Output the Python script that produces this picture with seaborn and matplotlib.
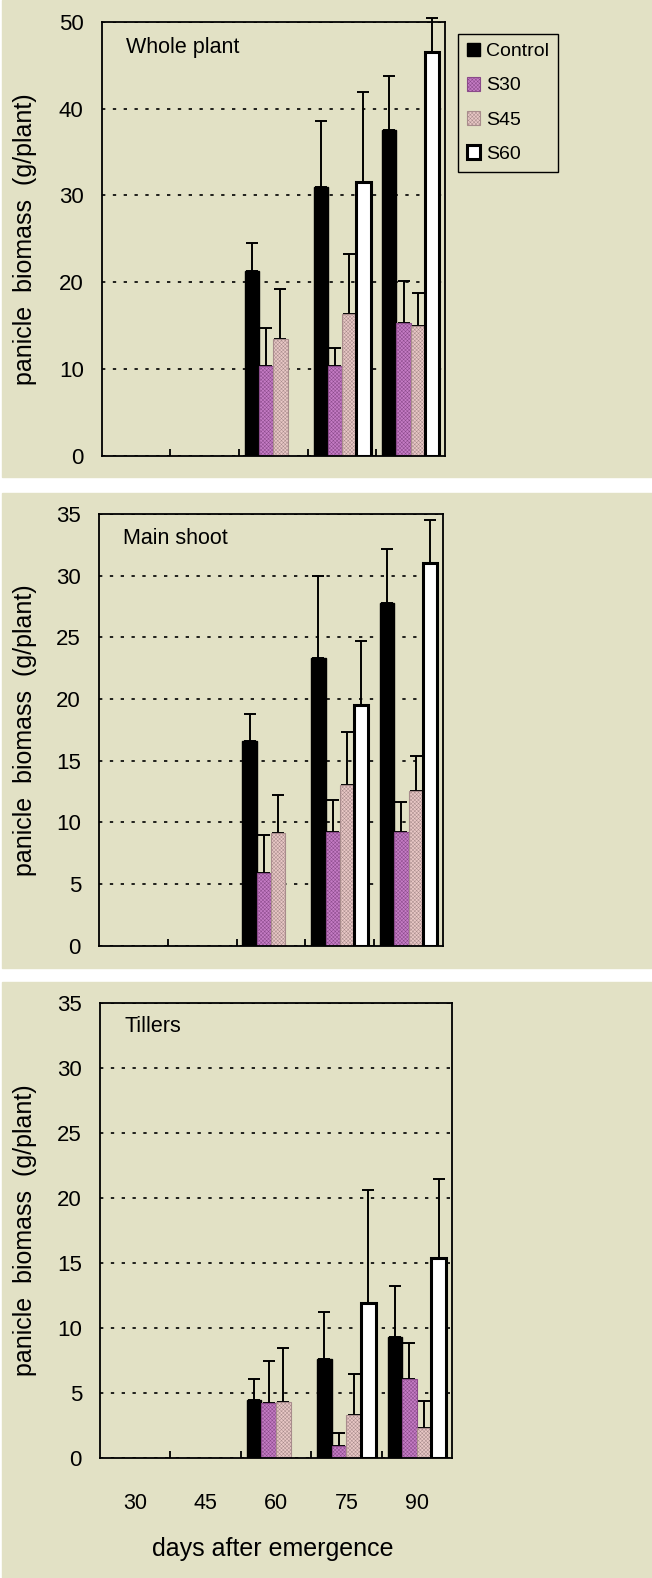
import numpy as np
import pandas as pd
import seaborn as sns
import matplotlib.pyplot as plt
from matplotlib.patches import Rectangle, Patch

sns.set_style('white')
plt.rcParams['font.family'] = ['Liberation Sans', 'DejaVu Sans']
plt.rcParams['hatch.linewidth'] = 0.35
for k in ['text.color', 'axes.labelcolor', 'xtick.color', 'ytick.color']:
    plt.rcParams[k] = 'black'

nan = np.nan
days = ['30', '45', '60', '75', '90']
treatments = ['Control', 'S30', 'S45', 'S60']

# whole plant - bar heights and upper error
whole_mean = {'Control': [nan, nan, 21.3, 31.0, 37.6],
              'S30': [nan, nan, 10.3, 10.3, 15.3],
              'S45': [nan, nan, 13.4, 16.3, 14.9],
              'S60': [nan, nan, nan, 31.5, 46.5]}
whole_err = {'Control': [nan, nan, 3.2, 7.6, 6.2],
             'S30': [nan, nan, 4.4, 2.15, 4.8],
             'S45': [nan, nan, 5.8, 6.9, 3.8],
             'S60': [nan, nan, nan, 10.4, 4.0]}

# main shoot
main_mean = {'Control': [nan, nan, 16.6, 23.3, 27.8],
             'S30': [nan, nan, 5.9, 9.2, 9.2],
             'S45': [nan, nan, 9.1, 13.0, 12.5],
             'S60': [nan, nan, nan, 19.5, 31.0]}
main_err = {'Control': [nan, nan, 2.2, 6.7, 4.4],
            'S30': [nan, nan, 3.1, 2.6, 2.4],
            'S45': [nan, nan, 3.1, 4.3, 2.9],
            'S60': [nan, nan, nan, 5.2, 3.5]}

# tillers
till_mean = {'Control': [nan, nan, 4.5, 7.6, 9.3],
             'S30': [nan, nan, 4.2, 0.9, 6.05],
             'S45': [nan, nan, 4.3, 3.3, 2.3],
             'S60': [nan, nan, nan, 11.9, 15.4]}
till_err = {'Control': [nan, nan, 1.6, 3.6, 3.9],
            'S30': [nan, nan, 3.3, 1.0, 2.8],
            'S45': [nan, nan, 4.2, 3.2, 2.1],
            'S60': [nan, nan, nan, 8.7, 6.1]}

W, H = 652, 1578
bg = '#e2e1c5'
fills = {'Control': 'black', 'S30': '#c57cc5', 'S45': '#e9c8c6', 'S60': 'white'}
edges = {'Control': 'black', 'S30': '#8a4a8a', 'S45': '#a88c8c', 'S60': 'black'}
lws = {'Control': 1.0, 'S30': 0.8, 'S45': 0.8, 'S60': 2.2}
hatches = {'Control': None, 'S30': 'xxxxxxxxx', 'S45': 'xxxxxxxxx', 'S60': None}

fig = plt.figure(figsize=(W / 100, H / 100), dpi=100, facecolor='white')
for top, bot in [(0, 477), (493, 968), (982, 1578)]:
    fig.patches.append(Rectangle((2 / W, 1 - bot / H), 650 / W, (bot - top) / H,
                                 transform=fig.transFigure, color=bg, zorder=-5))


def px_rect(l, r, t, b):
    return [l / W, 1 - b / H, (r - l) / W, (b - t) / H]


def draw_panel(rect, means, errs, title, ymax, step, title_y, last):
    l, r, t, b = rect
    ax = fig.add_axes(px_rect(*rect))
    ax.set_zorder(2)
    ax.set_facecolor('none')
    rows = []
    for tr in treatments:
        for d, v in zip(days, means[tr]):
            if not np.isnan(v):
                rows.append({'day': d, 'treatment': tr, 'value': v})
    df = pd.DataFrame(rows)
    sns.barplot(data=df, x='day', y='value', hue='treatment', order=days,
                hue_order=treatments, palette=fills, saturation=1, errorbar=None,
                width=0.83, legend=False, ax=ax, zorder=2)
    for tr, cont in zip(treatments, ax.containers):
        for p in cont:
            p.set_edgecolor(edges[tr])
            p.set_linewidth(lws[tr])
            if hatches[tr]:
                p.set_hatch(hatches[tr])
            xc = p.get_x() + p.get_width() / 2
            e = errs[tr][int(round(xc))]
            ax.errorbar(xc, p.get_height(), yerr=[[0], [e]], fmt='none',
                        ecolor='black', elinewidth=1.4, capsize=4.5, capthick=1.4,
                        zorder=1.5, clip_on=False)

    ax.set_xlim(-0.5, len(days) - 0.5)
    ax.set_ylim(0, ymax)
    ax.set_yticks(range(0, ymax + 1, step))
    ax.set_axisbelow(True)
    ax.yaxis.grid(True, color='black', linestyle=(0, (2, 4.5)), linewidth=1.2)
    ax.xaxis.grid(False)
    for s in ax.spines.values():
        s.set_color('black')
        s.set_linewidth(1.3)
    ax.tick_params(axis='y', length=0, pad=13, labelsize=16, labelcolor='black')
    ax.set_xticks(range(len(days)))
    ax.set_xticks([0.5, 1.5, 2.5, 3.5], minor=True)
    ax.tick_params(axis='x', which='major', length=0, pad=25, labelsize=15.5)
    ax.tick_params(axis='x', which='minor', bottom=True, direction='in',
                   length=5, width=1.3, color='black')
    if last:
        ax.set_xticklabels(days)
        ax.set_xlabel('days after emergence', fontsize=18, va='center')
        ax.xaxis.set_label_coords((273 - l) / (r - l), -(1549 - b) / (b - t))
    else:
        ax.set_xticklabels([])
        ax.set_xlabel('')
    ax.set_ylabel('panicle  biomass  (g/plant)', fontsize=18, va='center')
    ax.yaxis.set_label_coords((25 - l) / (r - l), 0.5)
    fig.text((l + 24) / W, 1 - title_y / H, title, fontsize=15.5, va='center')
    return ax


ax1 = draw_panel((101.7, 445, 22, 455.7), whole_mean, whole_err, 'Whole plant', 50, 10, 47, False)
ax2 = draw_panel((99, 443, 514, 945.5), main_mean, main_err, 'Main shoot', 35, 5, 539, False)
ax3 = draw_panel((100, 452, 1003, 1458), till_mean, till_err, 'Tillers', 35, 5, 1027, True)

handles = [Patch(facecolor=fills[t], edgecolor=edges[t], linewidth=lws[t],
                 hatch=hatches[t]) for t in treatments]
leg = ax1.legend(handles, treatments, loc='upper left',
                 bbox_to_anchor=(458 / W, 1 - 34 / H), bbox_transform=fig.transFigure,
                 fontsize=14, frameon=True, fancybox=False, edgecolor='black',
                 facecolor=bg, framealpha=1, handlelength=0.7, handleheight=0.7,
                 handletextpad=0.3, labelspacing=0.85, borderpad=0.45, borderaxespad=0)
leg.get_frame().set_linewidth(1.0)

fig.savefig('out.png', dpi=100, facecolor='white')
